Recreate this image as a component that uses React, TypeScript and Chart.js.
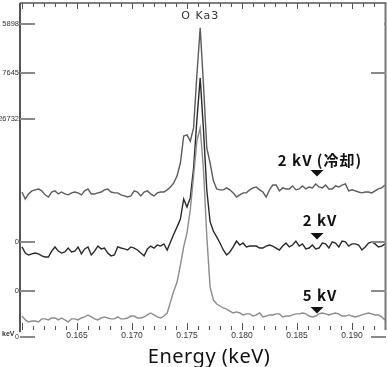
import React, { useEffect, useRef } from "react";
import { Chart, registerables } from "chart.js";

Chart.register(...registerables);

// ---------- data ----------
const ENERGY_START = 0.16; // keV, first channel
const ENERGY_STEP = 0.0003; // keV per channel
const CHANNELS = 111;
const energies: number[] = Array.from({ length: CHANNELS }, (_, i) => +(ENERGY_START + i * ENERGY_STEP).toFixed(4));

const seriesNames = ["2 kV (冷却)", "2 kV", "5 kV"];
const peakCounts = [5898, 7645, 26732];
// vertical stacking offsets (fraction of full peak height)
const seriesOffsets = [0.436, 0.211, 0];

// relative intensity (% of peak counts)
const cooled2kV = [
  22.9, 19.7, 22.0, 23.4, 23.9, 24.3, 23.4, 21.6, 20.6, 22.9,
  23.4, 22.0, 22.9, 22.0, 21.6, 22.5, 22.9, 22.5, 21.6, 23.4,
  24.3, 22.0, 22.0, 22.5, 22.9, 23.9, 24.3, 22.9, 22.5, 22.5,
  21.6, 21.1, 20.6, 21.1, 23.4, 22.9, 21.1, 22.9, 23.4, 22.0,
  21.1, 22.5, 22.9, 22.9, 23.9, 25.2, 27.1, 30.3, 36.2, 48.6,
  49.1, 46.3, 52.3, 76.6, 98.2, 72.0, 43.1, 36.2, 28.0, 24.3,
  23.9, 23.9, 24.8, 23.9, 22.5, 20.6, 21.6, 22.5, 22.5, 23.9,
  24.8, 25.2, 23.9, 22.9, 20.6, 23.9, 26.1, 26.1, 23.4, 24.8,
  24.3, 24.3, 25.7, 23.9, 24.3, 25.7, 24.3, 25.2, 24.8, 26.6,
  25.2, 24.8, 26.1, 24.3, 24.3, 25.7, 25.2, 26.1, 26.6, 23.4,
  23.9, 23.4, 22.9, 22.5, 22.9, 22.9, 22.5, 23.4, 24.3, 24.8,
  26.1,
];
const plain2kV = [
  20.2, 17.4, 16.5, 17.0, 17.4, 17.0, 16.1, 15.6, 15.6, 18.3,
  20.2, 18.3, 17.4, 17.9, 19.7, 17.9, 18.3, 20.2, 17.0, 19.3,
  20.2, 16.5, 18.3, 20.6, 19.3, 19.7, 17.4, 16.1, 16.5, 20.2,
  19.7, 19.3, 18.8, 20.2, 19.7, 18.8, 17.4, 16.1, 19.3, 20.6,
  19.7, 21.1, 20.6, 21.6, 18.8, 22.5, 26.1, 29.4, 33.0, 42.2,
  38.5, 42.7, 56.4, 78.4, 97.7, 73.9, 46.3, 31.7, 27.5, 24.8,
  22.0, 18.8, 16.5, 17.9, 20.2, 22.9, 21.1, 22.0, 20.2, 20.6,
  20.6, 20.6, 19.7, 19.7, 20.6, 21.1, 20.6, 19.7, 18.8, 20.6,
  22.0, 20.2, 21.1, 22.9, 20.6, 21.6, 19.3, 19.7, 21.1, 19.3,
  19.7, 22.0, 21.6, 19.7, 22.5, 22.0, 20.2, 22.9, 22.5, 20.6,
  21.6, 21.6, 21.1, 18.8, 20.2, 22.0, 22.5, 21.6, 20.2, 20.6,
  21.6,
];
const kv5 = [
  9.6, 7.8, 6.9, 7.3, 7.3, 6.9, 8.3, 8.3, 7.8, 8.7,
  8.7, 7.8, 8.7, 7.8, 6.9, 8.3, 8.3, 7.8, 8.7, 9.2,
  10.1, 9.2, 8.3, 7.8, 8.7, 9.2, 8.7, 8.3, 8.3, 9.2,
  8.3, 8.3, 8.7, 9.6, 9.6, 8.7, 8.7, 9.2, 10.1, 11.0,
  10.1, 9.2, 8.7, 9.6, 11.0, 16.1, 21.1, 25.2, 33.0, 41.3,
  47.7, 58.3, 73.9, 89.9, 95.9, 76.6, 46.3, 22.9, 17.0, 15.1,
  14.2, 13.3, 12.8, 11.9, 11.0, 11.5, 11.0, 10.1, 10.6, 10.6,
  9.6, 10.1, 11.0, 9.2, 9.6, 10.1, 10.1, 10.6, 10.6, 9.2,
  9.6, 9.6, 10.1, 10.6, 10.6, 11.0, 10.6, 9.6, 9.2, 9.6,
  10.6, 11.0, 10.6, 10.1, 10.6, 11.0, 10.6, 9.6, 9.6, 10.1,
  9.6, 9.2, 9.6, 10.1, 10.6, 11.0, 10.6, 10.1, 10.1, 9.2,
  7.8,
];
const seriesValues = [cooled2kV, plain2kV, kv5];
const seriesColors = ["#5c5c5c", "#2a2a2a", "#8c8c8c"];

const xTickValues = [0.165, 0.17, 0.175, 0.18, 0.185, 0.19];
const X_MIN = 0.15982;
const X_MAX = 0.193;
const Y_MIN = 0.032;
const Y_MAX = 1.532;

const yTickValues = [seriesOffsets[1], seriesOffsets[0], seriesOffsets[2] + 1, seriesOffsets[1] + 1, seriesOffsets[0] + 1];
const yTickLabels = ["0", "0", String(peakCounts[2]), String(peakCounts[1]), String(peakCounts[0])];

const peakLabel = "O Ka3";
const peakLabelEnergy = 0.1762;
const markerEnergy = 0.18682;
const labelEnergy = 0.18709;
// label / marker heights in axis units
const labelLevels = [0.812, 0.537, 0.193];
const markerLevels = [0.766, 0.477, 0.138];

const overlay = {
  id: "overlay",
  afterDraw(chart: any) {
    const { ctx, chartArea: a, scales } = chart;
    const xs = scales.x;
    const ys = scales.y;
    ctx.save();

    // minor/major ticks (top, pointing down; bottom, pointing up)
    ctx.strokeStyle = "#555";
    ctx.lineWidth = 1;
    for (let k = 160; k <= 193; k++) {
      const px = Math.round(xs.getPixelForValue(k / 1000)) + 0.5;
      const major = k % 5 === 0;
      ctx.beginPath();
      ctx.moveTo(px, a.top);
      ctx.lineTo(px, a.top + (major ? 6 : 4));
      ctx.moveTo(px, a.bottom);
      ctx.lineTo(px, a.bottom - (major ? 7 : 4));
      ctx.stroke();
    }

    // frame
    ctx.strokeStyle = "#555";
    ctx.lineWidth = 2;
    ctx.beginPath();
    ctx.moveTo(a.left, a.top);
    ctx.lineTo(a.left, a.bottom + 2);
    ctx.stroke();
    ctx.lineWidth = 1.5;
    ctx.beginPath();
    ctx.moveTo(a.left, a.top);
    ctx.lineTo(a.right + 1.5, a.top);
    ctx.stroke();
    ctx.strokeStyle = "#777";
    ctx.lineWidth = 2;
    ctx.beginPath();
    ctx.moveTo(a.right + 0.5, a.top);
    ctx.lineTo(a.right + 0.5, a.bottom);
    ctx.stroke();

    // scale marks for each trace
    ctx.strokeStyle = "#8a8a8a";
    ctx.lineWidth = 2;
    yTickValues.forEach((v) => {
      const py = Math.round(ys.getPixelForValue(v));
      ctx.beginPath();
      ctx.moveTo(a.left, py);
      ctx.lineTo(a.left + 15, py);
      ctx.stroke();
    });
    [seriesOffsets[0] + 1, seriesOffsets[1] + 1, seriesOffsets[0], seriesOffsets[1], seriesOffsets[2]].forEach((v, i) => {
      const py = Math.round(ys.getPixelForValue(v));
      ctx.beginPath();
      ctx.moveTo(a.right + 1, py);
      ctx.lineTo(a.right - (i === 0 ? 1 : 14), py);
      ctx.stroke();
    });
    // bottom zero (below the plot)
    const zeroY = Math.round(ys.getPixelForValue(seriesOffsets[2]));
    ctx.beginPath();
    ctx.moveTo(a.left, zeroY);
    ctx.lineTo(a.left + 15, zeroY);
    ctx.stroke();

    ctx.fillStyle = "#333";
    ctx.font = "bold 7px 'Liberation Sans', Arial, sans-serif";
    ctx.textBaseline = "middle";
    ctx.textAlign = "left";
    ctx.fillText("keV", 2, zeroY - 3);
    ctx.font = "7px 'Liberation Sans', Arial, sans-serif";
    ctx.textAlign = "right";
    ctx.fillText("0", 19, zeroY);

    // peak label
    ctx.fillStyle = "#333";
    ctx.font = "11px 'DejaVu Sans', sans-serif";
    (ctx as any).letterSpacing = "1px";
    ctx.textAlign = "center";
    ctx.textBaseline = "middle";
    ctx.fillText(peakLabel, xs.getPixelForValue(peakLabelEnergy), ys.getPixelForValue(1.472));

    // series labels + markers
    ctx.fillStyle = "#111";
    ctx.font = "bold 15px 'Noto Sans CJK JP', sans-serif";
    seriesNames.forEach((name, i) => {
      ctx.fillText(name, xs.getPixelForValue(labelEnergy), ys.getPixelForValue(labelLevels[i]));
      const mx = xs.getPixelForValue(markerEnergy);
      const my = ys.getPixelForValue(markerLevels[i]);
      ctx.beginPath();
      ctx.moveTo(mx - 6.5, my);
      ctx.lineTo(mx + 6.5, my);
      ctx.lineTo(mx, my + 6.5);
      ctx.closePath();
      ctx.fill();
    });

    // x axis title
    ctx.fillStyle = "#111";
    ctx.font = "20px 'Noto Sans', sans-serif";
    (ctx as any).letterSpacing = "0.5px";
    ctx.textAlign = "center";
    ctx.textBaseline = "middle";
    ctx.fillText("Energy (keV)", 209, 357);
    (ctx as any).letterSpacing = "0px";
    ctx.restore();
  },
};

export default function App() {
  const canvasRef = useRef<HTMLCanvasElement | null>(null);

  useEffect(() => {
    document.body.style.margin = "0";
    const canvas = canvasRef.current;
    if (!canvas) return;
    const datasets = seriesValues.map((vals, s) => ({
      label: seriesNames[s],
      data: energies.map((e, i) => ({ x: e, y: seriesOffsets[s] + vals[i] / 100 })),
      borderColor: seriesColors[s],
      borderWidth: 1.4,
      pointRadius: 0,
      tension: 0,
      fill: false,
    }));
    const chart = new Chart(canvas, {
      type: "line",
      data: { datasets: [datasets[2], datasets[1], datasets[0]] },
      options: {
        animation: false,
        responsive: false,
        devicePixelRatio: 1,
        layout: { padding: { left: 0, top: 3, right: 3, bottom: 0 } },
        plugins: { legend: { display: false }, tooltip: { enabled: false } },
        scales: {
          x: {
            type: "linear",
            min: X_MIN,
            max: X_MAX,
            grid: { display: false, drawTicks: false },
            border: { display: false },
            afterBuildTicks: (scale: any) => {
              scale.ticks = xTickValues.map((v) => ({ value: v }));
            },
            afterFit: (scale: any) => {
              scale.height = 37;
              scale.paddingLeft = 0;
              scale.paddingRight = 0;
            },
            ticks: {
              autoSkip: false,
              maxRotation: 0,
              padding: 1,
              color: "#333",
              font: { family: "'Liberation Sans', Arial, sans-serif", size: 8.5 },
              callback: (v: any) => Number(v).toFixed(3),
            },
          },
          y: {
            type: "linear",
            min: Y_MIN,
            max: Y_MAX,
            grid: { display: false, drawTicks: false },
            border: { display: false },
            afterBuildTicks: (scale: any) => {
              scale.ticks = yTickValues.map((v) => ({ value: v }));
            },
            afterFit: (scale: any) => {
              scale.width = 20;
              scale.paddingTop = 0;
              scale.paddingBottom = 0;
            },
            ticks: {
              padding: 1,
              color: "#333",
              font: { family: "'Liberation Sans', Arial, sans-serif", size: 7.5 },
              callback: (_v: any, i: number) => yTickLabels[i],
            },
          },
        },
      },
      plugins: [overlay],
    });
    return () => chart.destroy();
  }, []);

  return (
    <div style={{ width: 388, height: 367 }}>
      <canvas ref={canvasRef} width={388} height={367} style={{ width: 388, height: 367, display: "block" }} />
    </div>
  );
}
